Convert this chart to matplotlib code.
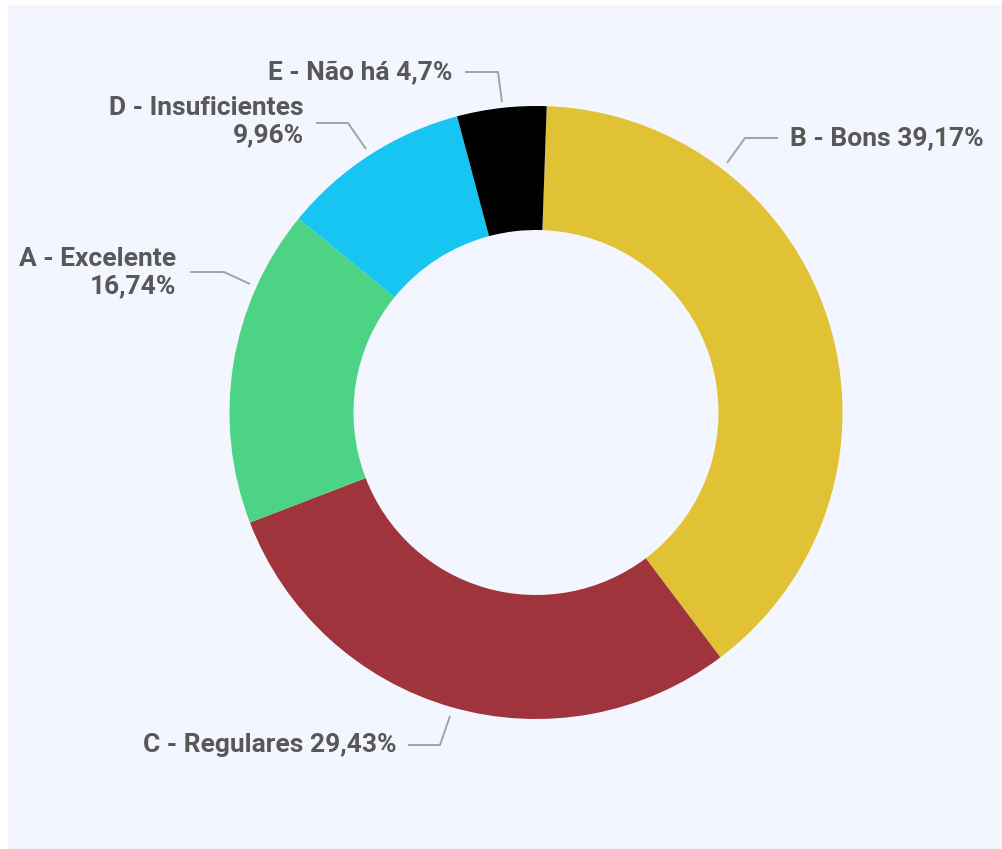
import matplotlib
matplotlib.use("Agg")
import matplotlib.pyplot as plt
from matplotlib.patches import Rectangle

# ---- data ----
categories = ["B - Bons", "C - Regulares", "A - Excelente", "D - Insuficientes", "E - Não há"]
values = [39.17, 29.43, 16.74, 9.96, 4.7]
colors = ["#E0C234", "#A0343D", "#4CD384", "#16C5F2", "#000000"]

# ---- layout (pixels, origin top-left) ----
W, H = 1003, 849
CX, CY = 536, 412.5
R_OUT = 306.5
RING_W = 124
label_layout = {
    "B - Bons": dict(xy=(790, 138), ha="left", sep=" ",
                     leader=[(778, 138), (745, 138), (727, 163)]),
    "C - Regulares": dict(xy=(397, 745), ha="right", sep=" ",
                          leader=[(408, 745), (440, 745), (450, 716)]),
    "A - Excelente": dict(xy=(176, 273), ha="right", sep="\n",
                          leader=[(190, 272), (224, 272), (250, 284)]),
    "D - Insuficientes": dict(xy=(304, 122), ha="right", sep="\n",
                              leader=[(316, 123), (348, 123), (366, 149)]),
    "E - Não há": dict(xy=(452, 72), ha="right", sep=" ",
                       leader=[(465, 72), (498, 72), (502, 102)]),
}

plt.rcParams['font.family'] = ['Roboto', 'DejaVu Sans']

fig = plt.figure(figsize=(W / 100, H / 100), dpi=100)
fig.patch.set_facecolor("white")
ax = fig.add_axes([0, 0, 1, 1])
ax.set_facecolor("none")

# panel background
ax.add_patch(Rectangle((8, 0), W - 8, H - 5, facecolor="#F3F6FE", edgecolor="none", zorder=0))

ax.pie(values, colors=colors, startangle=88, counterclock=False,
       radius=R_OUT, center=(CX, H - CY), frame=True,
       wedgeprops=dict(width=RING_W, edgecolor="none", linewidth=0))

ax.set_xlim(0, W)
ax.set_ylim(0, H)
ax.set_aspect("auto")
ax.axis("off")

def fmt(v):
    return f"{v:g}".replace(".", ",") + "%"

for cat, val in zip(categories, values):
    lay = label_layout[cat]
    x, y = lay["xy"]
    ax.text(x, H - y, cat + lay["sep"] + fmt(val), ha=lay["ha"], va="center",
            multialignment="right", fontsize=19, fontweight="bold",
            color="#585858", linespacing=1.18, zorder=5)
    xs = [p[0] for p in lay["leader"]]
    ys = [H - p[1] for p in lay["leader"]]
    ax.plot(xs, ys, color="#A3A3A3", lw=1.4, solid_capstyle="butt", zorder=4)

fig.savefig("out.png", dpi=100, facecolor=fig.get_facecolor())
